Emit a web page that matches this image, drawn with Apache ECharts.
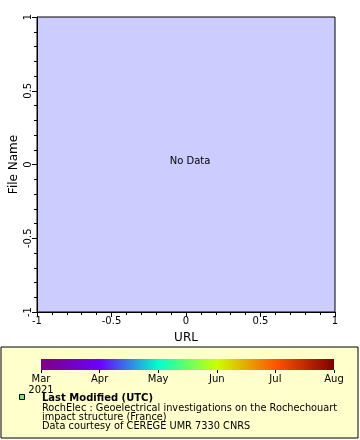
<!DOCTYPE html>
<html><head><meta charset="utf-8">
<script src="https://cdn.jsdelivr.net/npm/echarts@6/dist/echarts.min.js"></script>
<style>html,body{margin:0;padding:0;background:#fff}#c{width:360px;height:440px}</style>
</head><body><div id="c"></div>
<script>
var xTicks = [-1, -0.5, 0, 0.5, 1];
var yTicks = [-1, -0.5, 0, 0.5, 1];
var xName = 'URL';
var yName = 'File Name';
var noDataText = 'No Data';
var monthLabels = ['Mar\n2021', 'Apr', 'May', 'Jun', 'Jul', 'Aug'];
var monthColors = ['#800080', '#6a00ff', '#00ffcc', '#ccff00', '#ff5500', '#800000'];
var legendLines = ['RochElec : Geoelectrical investigations on the Rochechouart', 'impact structure (France)', 'Data courtesy of CEREGE UMR 7330 CNRS'];
var legendTitle = 'Last Modified (UTC)';

var FONT = 'DejaVu Sans';
var chart = echarts.init(document.getElementById('c'), null, {renderer: 'canvas'});
var stops = monthColors.map(function (c, i) { return {offset: i / (monthColors.length - 1), color: c}; });

function fmt(v) { return String(v); }

chart.setOption({
  animation: false,
  backgroundColor: '#ffffff',
  textStyle: {fontFamily: FONT},
  grid: [
    {left: 37, right: 25, top: 17, bottom: 128, show: true, backgroundColor: '#ccccff', borderColor: '#000', borderWidth: 1, containLabel: false, outerBoundsMode: 'none'},
    {left: 41, width: 293, top: 359, height: 11, show: true, borderWidth: 0, containLabel: false, outerBoundsMode: 'none',
     backgroundColor: {type: 'linear', x: 0, y: 0, x2: 1, y2: 0, colorStops: stops}}
  ],
  xAxis: [
    {type: 'value', gridIndex: 0, min: xTicks[0], max: xTicks[xTicks.length - 1], interval: 0.5,
     name: xName, nameLocation: 'middle', nameGap: 20, nameMoveOverlap: false, nameTextStyle: {fontSize: 12, color: '#000', fontFamily: FONT},
     axisLine: {show: true, onZero: false, lineStyle: {color: '#000'}},
     axisTick: {show: true, length: 5, lineStyle: {color: '#000'}},
     minorTick: {show: true, splitNumber: 5, length: 3, lineStyle: {color: '#000'}},
     splitLine: {show: false},
     axisLabel: {fontSize: 10, color: '#000', margin: 4, fontFamily: FONT, formatter: fmt}},
    {type: 'value', gridIndex: 1, min: 0, max: monthLabels.length - 1, interval: 1,
     axisLine: {show: false},
     axisTick: {show: true, length: 3, lineStyle: {color: '#000'}},
     splitLine: {show: false},
     axisLabel: {fontSize: 10, color: '#000', margin: 4, fontFamily: FONT, lineHeight: 11,
       formatter: function (v) { return monthLabels[Math.round(v)]; }}}
  ],
  yAxis: [
    {type: 'value', gridIndex: 0, min: yTicks[0], max: yTicks[yTicks.length - 1], interval: 0.5,
     name: yName, nameLocation: 'middle', nameGap: 17, nameMoveOverlap: false, nameTextStyle: {fontSize: 12, color: '#000', fontFamily: FONT},
     axisLine: {show: true, onZero: false, lineStyle: {color: '#000'}},
     axisTick: {show: true, length: 5, lineStyle: {color: '#000'}},
     minorTick: {show: true, splitNumber: 5, length: 3, lineStyle: {color: '#000'}},
     splitLine: {show: false},
     axisLabel: {fontSize: 10, color: '#000', margin: 4, rotate: 90, fontFamily: FONT, formatter: fmt}},
    {type: 'value', gridIndex: 1, min: 0, max: 1, show: false}
  ],
  series: [],
  graphic: [
    {type: 'rect', z: -10, shape: {x: 1, y: 347, width: 357, height: 91}, style: {fill: '#ffffcc', stroke: '#000', lineWidth: 1}},
    {type: 'text', style: {text: noDataText, x: 190, y: 161, align: 'center', verticalAlign: 'middle', font: '10px ' + FONT, fill: '#000'}},
    {type: 'rect', shape: {x: 19.5, y: 394.5, width: 5, height: 5}, style: {fill: '#66ee66', stroke: '#000', lineWidth: 1}},
    {type: 'text', style: {text: legendTitle, x: 42, y: 398, verticalAlign: 'middle', font: 'bold 10px ' + FONT, fill: '#000'}},
    {type: 'text', style: {text: legendLines[0], x: 42, y: 408, verticalAlign: 'middle', font: '9.8px ' + FONT, fill: '#000'}},
    {type: 'text', style: {text: legendLines[1], x: 42, y: 417, verticalAlign: 'middle', font: '9.8px ' + FONT, fill: '#000'}},
    {type: 'text', style: {text: legendLines[2], x: 42, y: 426, verticalAlign: 'middle', font: '9.8px ' + FONT, fill: '#000'}}
  ]
});
</script></body></html>
